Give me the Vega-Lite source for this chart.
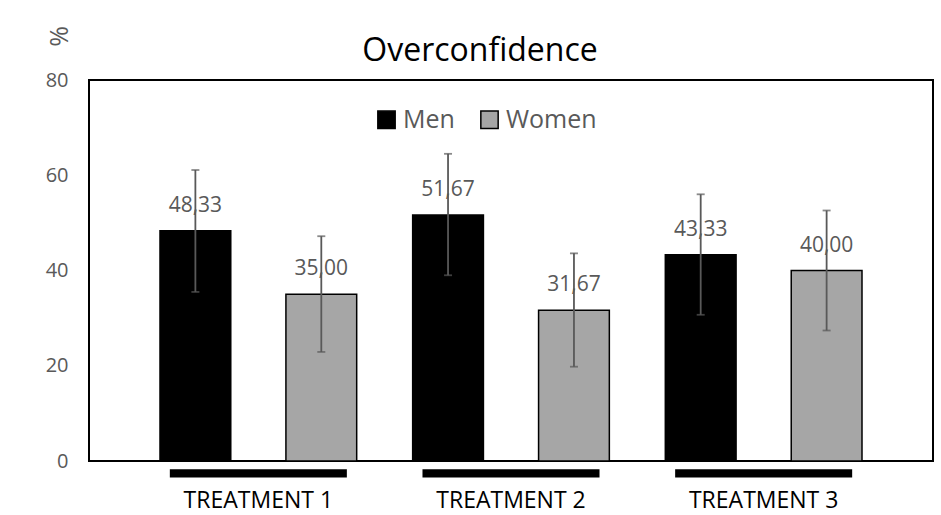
{
  "$schema": "https://vega.github.io/schema/vega-lite/v6.json",
  "width": 844,
  "height": 381,
  "autosize": {"type": "none"},
  "padding": {"left": 89, "top": 80, "right": 8, "bottom": 54},
  "background": "white",
  "title": {"text": "Overconfidence", "fontSize": 32, "font": "Open Sans", "fontWeight": "normal", "color": "black", "offset": 12, "dx": -31, "dy": 54},
  "config": {
    "view": {"stroke": "black", "strokeWidth": 2},
    "font": "Open Sans",
    "locale": {"number": {"decimal": ",", "thousands": ".", "grouping": [3], "currency": ["", " €"]}}
  },
  "data": {"values": [
    {"treatment": "TREATMENT 1", "gender": "Men", "value": 48.33, "lower": 35.5, "upper": 61.1},
    {"treatment": "TREATMENT 1", "gender": "Women", "value": 35.00, "lower": 22.9, "upper": 47.2},
    {"treatment": "TREATMENT 2", "gender": "Men", "value": 51.67, "lower": 39.0, "upper": 64.5},
    {"treatment": "TREATMENT 2", "gender": "Women", "value": 31.67, "lower": 19.8, "upper": 43.6},
    {"treatment": "TREATMENT 3", "gender": "Men", "value": 43.33, "lower": 30.7, "upper": 56.0},
    {"treatment": "TREATMENT 3", "gender": "Women", "value": 40.00, "lower": 27.4, "upper": 52.6}
  ]},
  "encoding": {
    "x": {"field": "treatment", "type": "nominal",
      "scale": {"paddingInner": 0.2215, "paddingOuter": 0.281},
      "axis": {"title": null, "labelAngle": 0, "ticks": false, "domain": false, "labelPadding": 28, "labelFontSize": 23, "labelColor": "black", "labelFont": "Open Sans"}}
  },
  "layer": [
    {
      "mark": {"type": "bar", "stroke": "black", "strokeWidth": 1.5},
      "encoding": {
        "xOffset": {"field": "gender", "type": "nominal", "scale": {"paddingInner": 0.438, "paddingOuter": 0}},
        "y": {"field": "value", "type": "quantitative",
          "scale": {"domain": [0, 80], "nice": false},
          "axis": {"values": [0, 20, 40, 60, 80], "grid": false, "domain": false, "ticks": false, "labelPadding": 21, "labelFontSize": 20, "labelColor": "#595959",
            "title": "%", "titleFontSize": 25, "titleFontWeight": "normal", "titleColor": "#595959", "titleAngle": -90, "titleX": -30, "titleY": -44, "titleAlign": "center", "titleBaseline": "middle"}},
        "color": {"field": "gender", "type": "nominal",
          "scale": {"domain": ["Men", "Women"], "range": ["#000000", "#a6a6a6"]},
          "legend": {"title": null, "orient": "none", "legendX": 285, "legendY": 27, "direction": "horizontal",
            "symbolType": "square", "symbolSize": 300, "symbolStrokeColor": "black", "symbolStrokeWidth": 1.5,
            "labelFontSize": 25, "labelColor": "#595959", "labelOffset": 4, "columnPadding": 22}}
      }
    },
    {
      "mark": {"type": "text", "dy": -25, "baseline": "middle", "fontSize": 21, "color": "#595959"},
      "encoding": {
        "xOffset": {"field": "gender", "type": "nominal"},
        "y": {"field": "value", "type": "quantitative"},
        "text": {"field": "value", "type": "quantitative", "format": ".2f"}
      }
    },
    {
      "mark": {"type": "rule", "color": "#595959", "strokeWidth": 1.8},
      "encoding": {
        "xOffset": {"field": "gender", "type": "nominal"},
        "y": {"field": "lower", "type": "quantitative"},
        "y2": {"field": "upper"}
      }
    },
    {
      "mark": {"type": "tick", "color": "#595959", "size": 8, "thickness": 1.8},
      "encoding": {
        "xOffset": {"field": "gender", "type": "nominal"},
        "y": {"field": "lower", "type": "quantitative"}
      }
    },
    {
      "mark": {"type": "tick", "color": "#595959", "size": 8, "thickness": 1.8},
      "encoding": {
        "xOffset": {"field": "gender", "type": "nominal"},
        "y": {"field": "upper", "type": "quantitative"}
      }
    },
    {
      "transform": [{"filter": "datum.gender == 'Men'"}],
      "mark": {"type": "bar", "color": "black", "width": {"band": 0.9}},
      "encoding": {
        "y": {"datum": -1.75},
        "y2": {"datum": -3.45}
      }
    }
  ]
}
